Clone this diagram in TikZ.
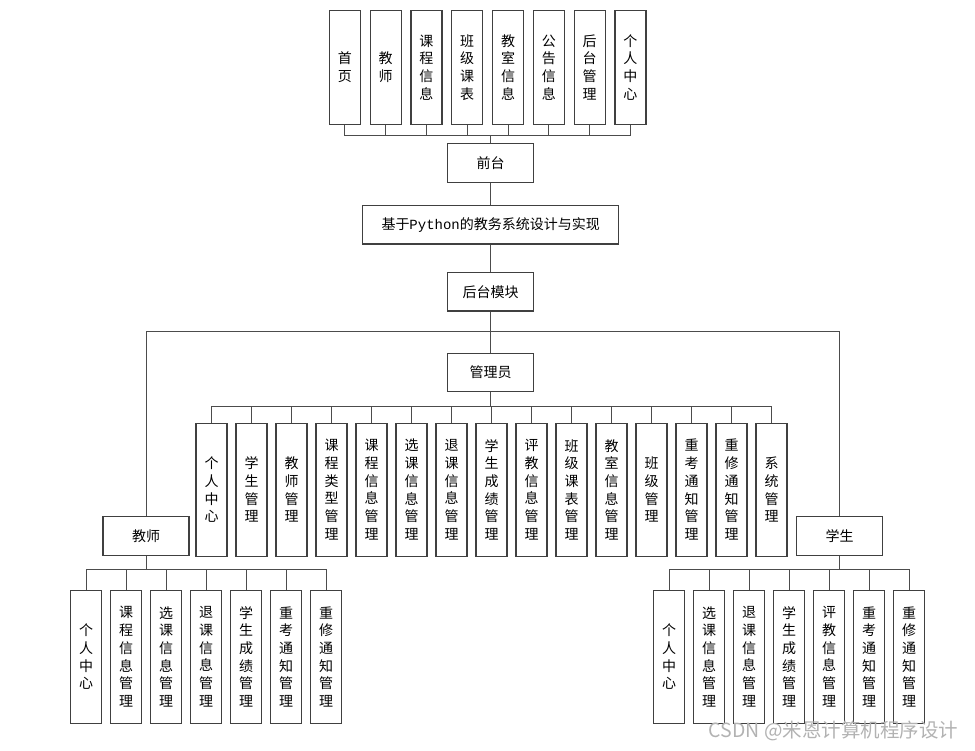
\documentclass[tikz,border=0pt]{standalone}
\usepackage{fontspec}
\setmainfont{Noto Sans CJK SC}
\newfontfamily\cjk{Noto Sans CJK SC}
\newfontfamily\monof{Liberation Mono}
\begin{document}
\begin{tikzpicture}[x=1pt,y=-1pt,
  box/.style={draw=black!75,line width=1.2pt,fill=white,inner sep=0pt,align=center,
    font=\cjk\fontsize{14}{17.7}\selectfont},
  vbox/.style={box,minimum width=31pt},
  hbox/.style={box,minimum width=86pt,minimum height=38.5pt},
  conn/.style={draw=black!70,line width=1pt}]
\useasboundingbox (0,0) rectangle (975,750);
% top
\node[hbox] (qt) at (490.7,163) {前台};
\node[box,minimum width=256pt,minimum height=38.7pt] (title) at (490.7,224.6) {基于{\monof Python}的教务系统设计与实现};
\node[hbox] (ht) at (490.7,291.7) {后台模块};
\node[hbox] (adm) at (490.7,372.5) {管理员};
\node[hbox] (tea) at (146,536) {教师};
\node[hbox] (stu) at (839.7,536) {学生};
\foreach \t [count=\i from 0] in {首\\页,教\\师,课\\程\\信\\息,班\\级\\课\\表,教\\室\\信\\息,公\\告\\信\\息,后\\台\\管\\理,个\\人\\中\\心}{
  \node[vbox,minimum height=114pt] (t\i) at (344.8+40.8*\i,67.3) {\t};
  \draw[conn] (qt.north) -- ++(0,-8) -| (t\i.south);
}
\draw[conn] (qt) -- (title);
\draw[conn] (title) -- (ht);
\draw[conn] (ht) -- (adm);
\draw[conn] (ht.south) -- ++(0,19.6) -| (tea.north);
\draw[conn] (ht.south) -- ++(0,19.6) -| (stu.north);
% admin
\foreach \t [count=\i from 0] in {个\\人\\中\\心,学\\生\\管\\理,教\\师\\管\\理,课\\程\\类\\型\\管\\理,课\\程\\信\\息\\管\\理,选\\课\\信\\息\\管\\理,退\\课\\信\\息\\管\\理,学\\生\\成\\绩\\管\\理,评\\教\\信\\息\\管\\理,班\\级\\课\\表\\管\\理,教\\室\\信\\息\\管\\理,班\\级\\管\\理,重\\考\\通\\知\\管\\理,重\\修\\通\\知\\管\\理,系\\统\\管\\理}{
  \node[vbox,minimum height=133pt] (a\i) at (211.5+40*\i,489.7) {\t};
  \draw[conn] (adm.south) -- ++(0,14) -| (a\i.north);
}
% teacher
\foreach \t [count=\i from 0] in {个\\人\\中\\心,课\\程\\信\\息\\管\\理,选\\课\\信\\息\\管\\理,退\\课\\信\\息\\管\\理,学\\生\\成\\绩\\管\\理,重\\考\\通\\知\\管\\理,重\\修\\通\\知\\管\\理}{
  \node[vbox,minimum height=133pt] (b\i) at (86+40*\i,656.8) {\t};
  \draw[conn] (tea.south) -- ++(0,14) -| (b\i.north);
}
% student
\foreach \t [count=\i from 0] in {个\\人\\中\\心,选\\课\\信\\息\\管\\理,退\\课\\信\\息\\管\\理,学\\生\\成\\绩\\管\\理,评\\教\\信\\息\\管\\理,重\\考\\通\\知\\管\\理,重\\修\\通\\知\\管\\理}{
  \node[vbox,minimum height=133pt] (c\i) at (669.2+40*\i,656.8) {\t};
  \draw[conn] (stu.south) -- ++(0,14) -| (c\i.north);
}
\node[text=black!30,font=\cjk\fontsize{19.5}{22}\selectfont,inner sep=0pt] (wm) at (833.5,731) {CSDN @米恩计算机程序设计};
\end{tikzpicture}
\end{document}
